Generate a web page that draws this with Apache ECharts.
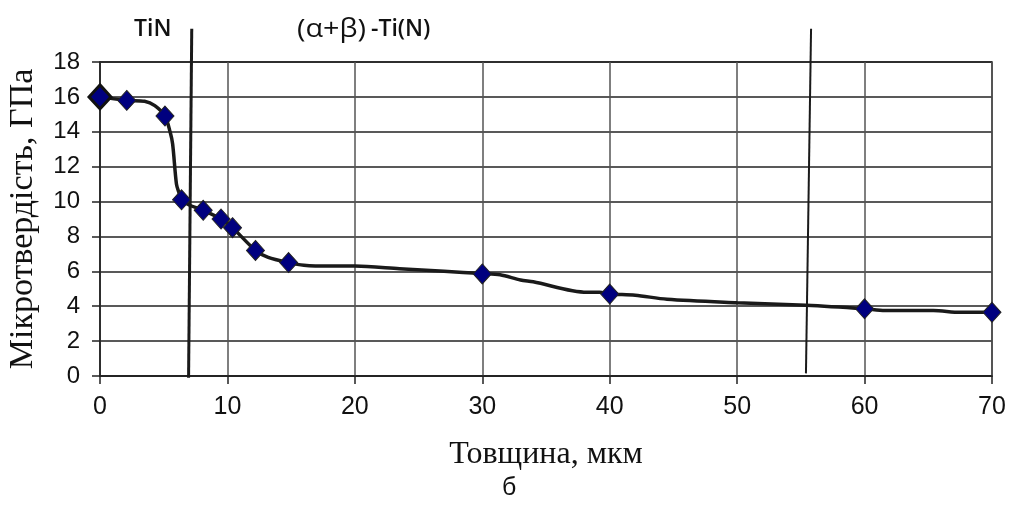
<!DOCTYPE html>
<html>
<head>
<meta charset="utf-8">
<script src="https://cdn.jsdelivr.net/npm/echarts@6/dist/echarts.min.js"></script>
<style>
  html, body { margin: 0; padding: 0; background: #fff; }
  #chart { width: 1019px; height: 524px; }
</style>
</head>
<body>
<div id="chart"></div>
<script>
// виміряні точки (товщина, мкм / мікротвердість, ГПа)
var pointX = [0, 2.1, 5.1, 6.4, 8.1, 9.5, 10.4, 12.2, 14.8, 30, 40, 60, 70];
var pointY = [16, 15.8, 14.9, 10.1, 9.5, 9.0, 8.5, 7.2, 6.5, 5.85, 4.7, 3.85, 3.65];

// згладжена крива, як намальована від руки
var curveX = [0, 2.1, 3.5, 4.3, 5.1, 5.5, 5.7, 6.0, 6.2, 6.4, 7, 8.1, 9.5, 10.4, 12.2, 13.2, 14.8, 16, 18, 20, 23.5, 27, 30, 31.4, 33, 34, 38.2, 39.2, 40, 42, 44.5, 50, 55.4, 60, 61.6, 65.4, 67.5, 70];
var curveY = [16, 15.8, 15.75, 15.5, 14.9, 14, 13.3, 11, 10.5, 10.1, 9.8, 9.5, 9.0, 8.5, 7.2, 6.8, 6.5, 6.35, 6.3, 6.3, 6.15, 6.0, 5.87, 5.8, 5.5, 5.4, 4.8, 4.8, 4.7, 4.63, 4.4, 4.2, 4.05, 3.85, 3.75, 3.75, 3.65, 3.65];

// межі фаз
var border1X = [7.2, 6.95];
var border1Y = [19.9, -0.1];
var border2X = [55.8, 55.4];
var border2Y = [19.9, 0.15];

var xTicks = { min: 0, max: 70, step: 10 };
var yTicks = { min: 0, max: 18, step: 2 };

function pairs(xs, ys) {
    var out = [];
    for (var i = 0; i < xs.length; i++) {
        out.push([xs[i], ys[i]]);
    }
    return out;
}

var pointData = pairs(pointX, pointY).map(function (p, i) {
    if (i === 0) {
        return { value: p, symbolSize: [22, 24], itemStyle: { borderColor: '#111', borderWidth: 3 } };
    }
    return p;
});

var myChart = echarts.init(document.getElementById('chart'));

var option = {
    animation: false,
    backgroundColor: '#fff',
    grid: {
        left: 100,
        right: 27,
        top: 62,
        bottom: 148,
        outerBoundsMode: 'none',
        containLabel: false,
        show: true,
        borderColor: '#222',
        borderWidth: 1.5
    },
    xAxis: {
        type: 'value',
        min: xTicks.min,
        max: xTicks.max,
        interval: xTicks.step,
        name: 'Товщина, мкм',
        nameLocation: 'middle',
        nameGap: 63,
        nameTextStyle: { fontFamily: 'Liberation Serif', fontSize: 32, color: '#111' },
        axisLine: { onZero: false, lineStyle: { color: '#222', width: 1.5 } },
        axisTick: { show: true, length: 8, lineStyle: { color: '#222', width: 1.5 } },
        axisLabel: { fontFamily: 'Liberation Sans', fontSize: 25, color: '#111', margin: 19 },
        splitLine: { show: true, lineStyle: { color: '#555', width: 1.5 } }
    },
    yAxis: {
        type: 'value',
        min: yTicks.min,
        max: yTicks.max,
        interval: yTicks.step,
        name: 'Мікротвердість, ГПа',
        nameLocation: 'middle',
        nameGap: 60,
        nameTextStyle: { fontFamily: 'Liberation Serif', fontSize: 34, color: '#111' },
        axisLine: { show: true, lineStyle: { color: '#222', width: 1.5 } },
        axisTick: { show: true, length: 8, lineStyle: { color: '#222', width: 1.5 } },
        axisLabel: { fontFamily: 'Liberation Sans', fontSize: 24, color: '#111', margin: 20 },
        splitLine: { show: true, lineStyle: { color: '#222', width: 1.5 } }
    },
    graphic: [
        { type: 'text', left: 134, top: 18, style: { text: 'TiN', fontFamily: 'Open Sans', fontWeight: 600, fontSize: 23, fill: '#111' } },
        { type: 'text', x: 297, y: 17, scaleX: 1.15, style: { text: '(α+β)', fontFamily: 'Open Sans', fontSize: 25, fill: '#111' } },
        { type: 'text', left: 371, top: 18, style: { text: '-Ti(N)', fontFamily: 'Open Sans', fontWeight: 600, fontSize: 23, fill: '#111' } },
        { type: 'text', left: 502, top: 476, style: { text: 'б', fontFamily: 'Liberation Sans', fontSize: 25, fill: '#111' } }
    ],
    series: [
        {
            type: 'line',
            data: pairs(curveX, curveY),
            smooth: 0.3,
            showSymbol: false,
            lineStyle: { color: '#1a1a1a', width: 3.5 },
            z: 3
        },
        {
            type: 'line',
            data: pairs(border1X, border1Y),
            clip: false,
            showSymbol: false,
            lineStyle: { color: '#1a1a1a', width: 3 },
            z: 2
        },
        {
            type: 'line',
            data: pairs(border2X, border2Y),
            clip: false,
            showSymbol: false,
            lineStyle: { color: '#1a1a1a', width: 2 },
            z: 2
        },
        {
            type: 'scatter',
            data: pointData,
            symbol: 'diamond',
            symbolSize: [18, 20],
            itemStyle: { color: '#00007f', borderColor: '#222', borderWidth: 1, opacity: 1 },
            z: 4
        }
    ]
};

myChart.setOption(option);
</script>
</body>
</html>
